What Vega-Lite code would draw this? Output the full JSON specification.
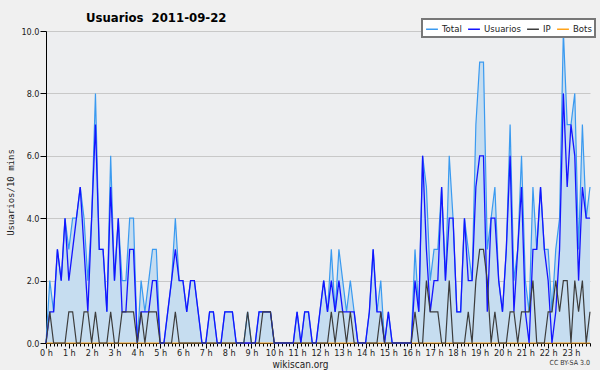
{
  "$schema": "https://vega.github.io/schema/vega-lite/v6.json",
  "width": 544,
  "height": 312,
  "autosize": {"type": "none"},
  "padding": {"left": 46, "top": 31, "right": 10, "bottom": 27},
  "background": "#f0f0f0",
  "config": {
    "view": {"fill": "#edeef0", "stroke": null},
    "font": "DejaVu Sans Condensed",
    "axis": {"domainColor": "#000", "tickColor": "#000", "labelColor": "#222", "labelFont": "DejaVu Sans Condensed", "labelFontSize": 9, "zindex": 1},
    "legend": {"strokeWidth": 2}
  },
  "title": {"text": "Usuarios\u00a0 2011-09-22", "anchor": "start", "frame": "group", "dx": 40, "dy": 15, "offset": 8, "fontSize": 13, "fontWeight": "bold", "font": "DejaVu Sans Condensed", "color": "#000"},
  "data": {"values": [
    {"i":0,"Total":0,"Usuarios":0,"IP":0,"Bots":0},
    {"i":1,"Total":2,"Usuarios":1,"IP":1,"Bots":0},
    {"i":2,"Total":1,"Usuarios":1,"IP":0,"Bots":0},
    {"i":3,"Total":3,"Usuarios":3,"IP":0,"Bots":0},
    {"i":4,"Total":2,"Usuarios":2,"IP":0,"Bots":0},
    {"i":5,"Total":4,"Usuarios":4,"IP":0,"Bots":0},
    {"i":6,"Total":3,"Usuarios":2,"IP":1,"Bots":0},
    {"i":7,"Total":4,"Usuarios":3,"IP":1,"Bots":0},
    {"i":8,"Total":4,"Usuarios":4,"IP":0,"Bots":0},
    {"i":9,"Total":5,"Usuarios":5,"IP":0,"Bots":0},
    {"i":10,"Total":4,"Usuarios":3,"IP":1,"Bots":0},
    {"i":11,"Total":2,"Usuarios":1,"IP":1,"Bots":0},
    {"i":12,"Total":4,"Usuarios":4,"IP":0,"Bots":0},
    {"i":13,"Total":8,"Usuarios":7,"IP":1,"Bots":0},
    {"i":14,"Total":3,"Usuarios":3,"IP":0,"Bots":0},
    {"i":15,"Total":3,"Usuarios":3,"IP":0,"Bots":0},
    {"i":16,"Total":1,"Usuarios":1,"IP":0,"Bots":0},
    {"i":17,"Total":6,"Usuarios":5,"IP":1,"Bots":0},
    {"i":18,"Total":2,"Usuarios":2,"IP":0,"Bots":0},
    {"i":19,"Total":4,"Usuarios":4,"IP":0,"Bots":0},
    {"i":20,"Total":2,"Usuarios":1,"IP":1,"Bots":0},
    {"i":21,"Total":2,"Usuarios":1,"IP":1,"Bots":0},
    {"i":22,"Total":4,"Usuarios":3,"IP":1,"Bots":0},
    {"i":23,"Total":4,"Usuarios":3,"IP":1,"Bots":0},
    {"i":24,"Total":0,"Usuarios":0,"IP":0,"Bots":0},
    {"i":25,"Total":2,"Usuarios":1,"IP":1,"Bots":0},
    {"i":26,"Total":1,"Usuarios":1,"IP":0,"Bots":0},
    {"i":27,"Total":2,"Usuarios":1,"IP":1,"Bots":0},
    {"i":28,"Total":3,"Usuarios":2,"IP":1,"Bots":0},
    {"i":29,"Total":3,"Usuarios":2,"IP":1,"Bots":0},
    {"i":30,"Total":0,"Usuarios":0,"IP":0,"Bots":0},
    {"i":31,"Total":0,"Usuarios":0,"IP":0,"Bots":0},
    {"i":32,"Total":1,"Usuarios":1,"IP":0,"Bots":0},
    {"i":33,"Total":2,"Usuarios":2,"IP":0,"Bots":0},
    {"i":34,"Total":4,"Usuarios":3,"IP":1,"Bots":0},
    {"i":35,"Total":2,"Usuarios":2,"IP":0,"Bots":0},
    {"i":36,"Total":2,"Usuarios":2,"IP":0,"Bots":0},
    {"i":37,"Total":1,"Usuarios":1,"IP":0,"Bots":0},
    {"i":38,"Total":2,"Usuarios":2,"IP":0,"Bots":0},
    {"i":39,"Total":2,"Usuarios":2,"IP":0,"Bots":0},
    {"i":40,"Total":1,"Usuarios":1,"IP":0,"Bots":0},
    {"i":41,"Total":0,"Usuarios":0,"IP":0,"Bots":0},
    {"i":42,"Total":0,"Usuarios":0,"IP":0,"Bots":0},
    {"i":43,"Total":1,"Usuarios":1,"IP":0,"Bots":0},
    {"i":44,"Total":1,"Usuarios":1,"IP":0,"Bots":0},
    {"i":45,"Total":0,"Usuarios":0,"IP":0,"Bots":0},
    {"i":46,"Total":0,"Usuarios":0,"IP":0,"Bots":0},
    {"i":47,"Total":1,"Usuarios":1,"IP":0,"Bots":0},
    {"i":48,"Total":1,"Usuarios":1,"IP":0,"Bots":0},
    {"i":49,"Total":1,"Usuarios":1,"IP":0,"Bots":0},
    {"i":50,"Total":0,"Usuarios":0,"IP":0,"Bots":0},
    {"i":51,"Total":0,"Usuarios":0,"IP":0,"Bots":0},
    {"i":52,"Total":0,"Usuarios":0,"IP":0,"Bots":0},
    {"i":53,"Total":1,"Usuarios":0,"IP":1,"Bots":0},
    {"i":54,"Total":0,"Usuarios":0,"IP":0,"Bots":0},
    {"i":55,"Total":0,"Usuarios":0,"IP":0,"Bots":0},
    {"i":56,"Total":1,"Usuarios":1,"IP":0,"Bots":0},
    {"i":57,"Total":1,"Usuarios":1,"IP":1,"Bots":0},
    {"i":58,"Total":1,"Usuarios":1,"IP":1,"Bots":0},
    {"i":59,"Total":1,"Usuarios":1,"IP":1,"Bots":0},
    {"i":60,"Total":0,"Usuarios":0,"IP":0,"Bots":0},
    {"i":61,"Total":0,"Usuarios":0,"IP":0,"Bots":0},
    {"i":62,"Total":0,"Usuarios":0,"IP":0,"Bots":0},
    {"i":63,"Total":0,"Usuarios":0,"IP":0,"Bots":0},
    {"i":64,"Total":0,"Usuarios":0,"IP":0,"Bots":0},
    {"i":65,"Total":0,"Usuarios":0,"IP":0,"Bots":0},
    {"i":66,"Total":1,"Usuarios":1,"IP":0,"Bots":0},
    {"i":67,"Total":0,"Usuarios":0,"IP":0,"Bots":0},
    {"i":68,"Total":1,"Usuarios":1,"IP":0,"Bots":0},
    {"i":69,"Total":1,"Usuarios":1,"IP":0,"Bots":0},
    {"i":70,"Total":0,"Usuarios":0,"IP":0,"Bots":0},
    {"i":71,"Total":0,"Usuarios":0,"IP":0,"Bots":0},
    {"i":72,"Total":1,"Usuarios":1,"IP":0,"Bots":0},
    {"i":73,"Total":2,"Usuarios":2,"IP":0,"Bots":0},
    {"i":74,"Total":1,"Usuarios":1,"IP":0,"Bots":0},
    {"i":75,"Total":3,"Usuarios":2,"IP":1,"Bots":0},
    {"i":76,"Total":1,"Usuarios":1,"IP":0,"Bots":0},
    {"i":77,"Total":3,"Usuarios":2,"IP":1,"Bots":0},
    {"i":78,"Total":2,"Usuarios":1,"IP":1,"Bots":0},
    {"i":79,"Total":1,"Usuarios":1,"IP":0,"Bots":0},
    {"i":80,"Total":2,"Usuarios":1,"IP":1,"Bots":0},
    {"i":81,"Total":1,"Usuarios":1,"IP":0,"Bots":0},
    {"i":82,"Total":0,"Usuarios":0,"IP":0,"Bots":0},
    {"i":83,"Total":0,"Usuarios":0,"IP":0,"Bots":0},
    {"i":84,"Total":0,"Usuarios":0,"IP":0,"Bots":0},
    {"i":85,"Total":1,"Usuarios":1,"IP":0,"Bots":0},
    {"i":86,"Total":3,"Usuarios":3,"IP":0,"Bots":0},
    {"i":87,"Total":1,"Usuarios":1,"IP":0,"Bots":0},
    {"i":88,"Total":2,"Usuarios":1,"IP":1,"Bots":0},
    {"i":89,"Total":0,"Usuarios":0,"IP":0,"Bots":0},
    {"i":90,"Total":1,"Usuarios":1,"IP":0,"Bots":0},
    {"i":91,"Total":0,"Usuarios":0,"IP":0,"Bots":0},
    {"i":92,"Total":0,"Usuarios":0,"IP":0,"Bots":0},
    {"i":93,"Total":0,"Usuarios":0,"IP":0,"Bots":0},
    {"i":94,"Total":0,"Usuarios":0,"IP":0,"Bots":0},
    {"i":95,"Total":0,"Usuarios":0,"IP":0,"Bots":0},
    {"i":96,"Total":0,"Usuarios":0,"IP":0,"Bots":0},
    {"i":97,"Total":3,"Usuarios":2,"IP":1,"Bots":0},
    {"i":98,"Total":1,"Usuarios":1,"IP":0,"Bots":0},
    {"i":99,"Total":6,"Usuarios":6,"IP":0,"Bots":0},
    {"i":100,"Total":5,"Usuarios":3,"IP":2,"Bots":0},
    {"i":101,"Total":2,"Usuarios":1,"IP":1,"Bots":0},
    {"i":102,"Total":3,"Usuarios":2,"IP":1,"Bots":0},
    {"i":103,"Total":3,"Usuarios":2,"IP":1,"Bots":0},
    {"i":104,"Total":5,"Usuarios":5,"IP":0,"Bots":0},
    {"i":105,"Total":2,"Usuarios":2,"IP":0,"Bots":0},
    {"i":106,"Total":6,"Usuarios":4,"IP":2,"Bots":0},
    {"i":107,"Total":4,"Usuarios":4,"IP":0,"Bots":0},
    {"i":108,"Total":1,"Usuarios":1,"IP":0,"Bots":0},
    {"i":109,"Total":1,"Usuarios":1,"IP":0,"Bots":0},
    {"i":110,"Total":4,"Usuarios":4,"IP":0,"Bots":0},
    {"i":111,"Total":3,"Usuarios":2,"IP":1,"Bots":0},
    {"i":112,"Total":2,"Usuarios":2,"IP":0,"Bots":0},
    {"i":113,"Total":7,"Usuarios":5,"IP":2,"Bots":0},
    {"i":114,"Total":9,"Usuarios":6,"IP":3,"Bots":0},
    {"i":115,"Total":9,"Usuarios":6,"IP":3,"Bots":0},
    {"i":116,"Total":3,"Usuarios":1,"IP":2,"Bots":0},
    {"i":117,"Total":4,"Usuarios":4,"IP":0,"Bots":0},
    {"i":118,"Total":5,"Usuarios":4,"IP":1,"Bots":0},
    {"i":119,"Total":2,"Usuarios":2,"IP":0,"Bots":0},
    {"i":120,"Total":1,"Usuarios":1,"IP":0,"Bots":0},
    {"i":121,"Total":3,"Usuarios":3,"IP":0,"Bots":0},
    {"i":122,"Total":7,"Usuarios":6,"IP":1,"Bots":0},
    {"i":123,"Total":2,"Usuarios":1,"IP":1,"Bots":0},
    {"i":124,"Total":3,"Usuarios":3,"IP":0,"Bots":0},
    {"i":125,"Total":6,"Usuarios":5,"IP":1,"Bots":0},
    {"i":126,"Total":2,"Usuarios":1,"IP":1,"Bots":0},
    {"i":127,"Total":1,"Usuarios":0,"IP":1,"Bots":0},
    {"i":128,"Total":5,"Usuarios":3,"IP":2,"Bots":0},
    {"i":129,"Total":3,"Usuarios":3,"IP":0,"Bots":0},
    {"i":130,"Total":5,"Usuarios":5,"IP":0,"Bots":0},
    {"i":131,"Total":3,"Usuarios":3,"IP":0,"Bots":0},
    {"i":132,"Total":3,"Usuarios":2,"IP":1,"Bots":0},
    {"i":133,"Total":1,"Usuarios":0,"IP":1,"Bots":0},
    {"i":134,"Total":3,"Usuarios":1,"IP":2,"Bots":0},
    {"i":135,"Total":4,"Usuarios":3,"IP":1,"Bots":0},
    {"i":136,"Total":10,"Usuarios":8,"IP":2,"Bots":0},
    {"i":137,"Total":7,"Usuarios":5,"IP":2,"Bots":0},
    {"i":138,"Total":7,"Usuarios":7,"IP":0,"Bots":0},
    {"i":139,"Total":8,"Usuarios":6,"IP":2,"Bots":0},
    {"i":140,"Total":3,"Usuarios":2,"IP":1,"Bots":0},
    {"i":141,"Total":7,"Usuarios":5,"IP":2,"Bots":0},
    {"i":142,"Total":4,"Usuarios":4,"IP":0,"Bots":0},
    {"i":143,"Total":5,"Usuarios":4,"IP":1,"Bots":0}
  ]},
  "encoding": {
    "x": {
      "field": "i", "type": "quantitative",
      "scale": {"domain": [0, 143], "nice": false, "zero": false},
      "axis": {
        "title": "wikiscan.org", "titleFont": "DejaVu Sans Condensed", "titleFontSize": 10, "titleFontWeight": "normal", "titleColor": "#222",
        "titleX": 254, "titleY": 24.5, "titleBaseline": "alphabetic",
        "values": [0,1,2,3,4,5,6,7,8,9,10,11,12,13,14,15,16,17,18,19,20,21,22,23,24,25,26,27,28,29,30,31,32,33,34,35,36,37,38,39,40,41,42,43,44,45,46,47,48,49,50,51,52,53,54,55,56,57,58,59,60,61,62,63,64,65,66,67,68,69,70,71,72,73,74,75,76,77,78,79,80,81,82,83,84,85,86,87,88,89,90,91,92,93,94,95,96,97,98,99,100,101,102,103,104,105,106,107,108,109,110,111,112,113,114,115,116,117,118,119,120,121,122,123,124,125,126,127,128,129,130,131,132,133,134,135,136,137,138,139,140,141,142,143],
        "labelExpr": "datum.value % 6 === 0 ? (datum.value / 6) + ' h' : ''",
        "labelOverlap": false, "labelFlush": false, "labelBound": false, "labelPadding": 0,
        "tickSize": {"condition": {"test": "datum.value % 6 === 0", "value": 5}, "value": 3},
        "grid": false
      }
    }
  },
  "layer": [
    {
      "mark": {"type": "area", "color": "#c6ddf0", "opacity": 1},
      "encoding": {
        "y": {
          "field": "Total", "type": "quantitative",
          "scale": {"domain": [0, 10], "nice": false},
          "axis": {
            "title": "Usuarios/10 mins", "titleFont": "DejaVu Sans Mono", "titleFontSize": 9, "titleFontWeight": "normal", "titleColor": "#222",
            "titleX": -36, "titleY": 161, "titleAngle": -90, "titleAlign": "center", "titleBaseline": "middle",
            "values": [0,0.5,1,1.5,2,2.5,3,3.5,4,4.5,5,5.5,6,6.5,7,7.5,8,8.5,9,9.5,10],
            "labelExpr": "datum.value % 2 === 0 ? format(datum.value, '.1f') : ''",
            "labelOverlap": false, "labelFlush": false, "labelBound": false, "labelPadding": 1,
            "tickSize": {"condition": {"test": "datum.value % 2 === 0", "value": 6}, "value": 4},
            "grid": true, "gridColor": "#c8c8c8", "gridWidth": 1,
            "gridOpacity": {"condition": {"test": "datum.value % 2 === 0 && datum.value > 0", "value": 1}, "value": 0}
          }
        }
      }
    },
    {
      "mark": {"type": "line", "strokeWidth": 1.2, "interpolate": "linear"},
      "encoding": {
        "y": {"field": "Bots", "type": "quantitative"},
        "color": {
          "datum": "Bots", "type": "nominal",
          "scale": {"domain": ["Total", "Usuarios", "IP", "Bots"], "range": ["#3a9af0", "#1414ff", "#3c3c3c", "#ffa31a"]},
          "legend": {
            "title": null, "orient": "none", "direction": "horizontal", "legendX": 376, "legendY": -12,
            "symbolType": "stroke", "symbolSize": 140, "symbolStrokeWidth": 1.5,
            "labelFont": "DejaVu Sans Condensed", "labelFontSize": 9.5, "labelColor": "#222", "labelOffset": 3,
            "columnPadding": 3, "padding": 3, "fillColor": "#ffffff", "strokeColor": "#777777"
          }
        }
      }
    },
    {
      "mark": {"type": "line", "strokeWidth": 1.2, "interpolate": "linear"},
      "encoding": {"y": {"field": "Total", "type": "quantitative"}, "color": {"datum": "Total", "type": "nominal"}}
    },
    {
      "mark": {"type": "line", "strokeWidth": 1.3, "interpolate": "linear"},
      "encoding": {"y": {"field": "Usuarios", "type": "quantitative"}, "color": {"datum": "Usuarios", "type": "nominal"}}
    },
    {
      "mark": {"type": "line", "strokeWidth": 1.2, "interpolate": "linear"},
      "encoding": {"y": {"field": "IP", "type": "quantitative"}, "color": {"datum": "IP", "type": "nominal"}}
    },
    {
      "data": {"values": [{"nota": "CC BY-SA 3.0", "i": 143, "v": 0}]},
      "mark": {"type": "text", "align": "right", "baseline": "alphabetic", "dy": 22, "fontSize": 7, "font": "DejaVu Sans Condensed", "color": "#333"},
      "encoding": {
        "x": {"field": "i", "type": "quantitative"},
        "y": {"field": "v", "type": "quantitative"},
        "text": {"field": "nota", "type": "nominal"}
      }
    }
  ]
}
